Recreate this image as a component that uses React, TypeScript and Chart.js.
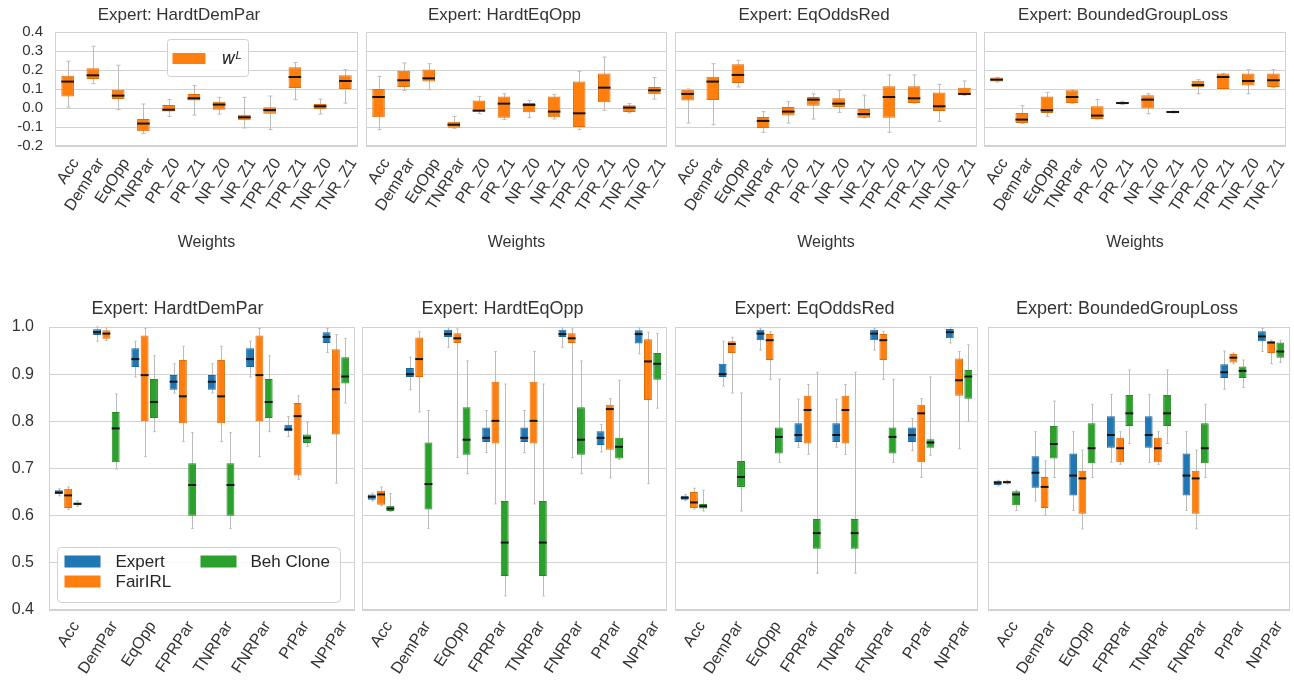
import React, { useEffect, useRef } from 'react';
import { Chart, registerables } from 'chart.js';

Chart.register(...registerables);

const FONT = "'Liberation Sans', Arial, Helvetica, sans-serif";
const TEXT = '#333333';
const GRID = '#d2d2d2';
const WHISKER = '#bcbcbc';
const MEDIAN = '#151515';

// ---------- categories / tick labels ----------
const experts = ['HardtDemPar', 'HardtEqOpp', 'EqOddsRed', 'BoundedGroupLoss'];
const weightLabels = ['Acc', 'DemPar', 'EqOpp', 'TNRPar', 'PR_Z0', 'PR_Z1', 'NR_Z0', 'NR_Z1', 'TPR_Z0', 'TPR_Z1', 'TNR_Z0', 'TNR_Z1'];
const metricLabels = ['Acc', 'DemPar', 'EqOpp', 'FPRPar', 'TNRPar', 'FNRPar', 'PrPar', 'NPrPar'];
const seriesNames = ['Expert', 'FairIRL', 'Beh Clone'];
const seriesFill = ['#1f77b4', '#ff7f0e', '#2ca02c'];
const seriesEdge = ['#1b6599', '#dc6d0b', '#258a25'];
const weightRange = [-0.2, 0.4];
const metricRange = [0.4, 1.0];
const tickStep = 0.1;

// ---------- box stats: [min, q1, median, q3, max] ----------
// top row: learned weights w^L
const wHardtDemPar = [
  [0.005, 0.061, 0.139, 0.170, 0.246],
  [0.128, 0.153, 0.172, 0.209, 0.325],
  [-0.009, 0.047, 0.065, 0.096, 0.225],
  [-0.135, -0.123, -0.082, -0.058, 0.021],
  [-0.044, -0.018, -0.009, 0.016, 0.044],
  [-0.037, 0.040, 0.051, 0.074, 0.118],
  [-0.032, -0.009, 0.018, 0.033, 0.056],
  [-0.105, -0.065, -0.049, -0.035, 0.056],
  [-0.114, -0.030, -0.011, 0.004, 0.063],
  [0.044, 0.105, 0.163, 0.214, 0.240],
  [-0.032, -0.005, 0.009, 0.021, 0.047],
  [0.026, 0.100, 0.142, 0.172, 0.202],
];
const wHardtEqOpp = [
  [-0.114, -0.049, 0.058, 0.100, 0.167],
  [0.093, 0.110, 0.146, 0.196, 0.237],
  [0.096, 0.139, 0.156, 0.202, 0.233],
  [-0.107, -0.104, -0.088, -0.072, -0.044],
  [-0.030, -0.018, -0.014, 0.040, 0.061],
  [-0.061, -0.051, 0.023, 0.060, 0.075],
  [-0.051, -0.023, 0.016, 0.026, 0.040],
  [-0.058, -0.049, -0.019, 0.061, 0.072],
  [-0.114, -0.100, -0.028, 0.140, 0.193],
  [-0.012, 0.030, 0.107, 0.181, 0.268],
  [-0.026, -0.021, 0.002, 0.014, 0.023],
  [0.047, 0.072, 0.093, 0.110, 0.160],
];
const wEqOddsRed = [
  [-0.079, 0.040, 0.074, 0.096, 0.100],
  [-0.088, 0.042, 0.139, 0.165, 0.233],
  [0.111, 0.132, 0.174, 0.230, 0.251],
  [-0.128, -0.105, -0.068, -0.047, -0.019],
  [-0.079, -0.040, -0.019, 0.005, 0.033],
  [-0.058, 0.012, 0.044, 0.058, 0.074],
  [-0.023, 0.005, 0.023, 0.051, 0.093],
  [-0.051, -0.051, -0.032, -0.005, 0.068],
  [-0.128, -0.051, 0.058, 0.114, 0.174],
  [0.026, 0.026, 0.051, 0.114, 0.174],
  [-0.070, -0.016, 0.009, 0.082, 0.125],
  [0.067, 0.067, 0.074, 0.107, 0.142],
];
const wBoundedGroupLoss = [
  [0.137, 0.140, 0.149, 0.160, 0.161],
  [-0.082, -0.079, -0.061, -0.026, 0.012],
  [-0.044, -0.026, -0.012, 0.061, 0.082],
  [0.023, 0.026, 0.058, 0.093, 0.096],
  [-0.058, -0.058, -0.040, 0.009, 0.044],
  [0.019, 0.021, 0.026, 0.032, 0.035],
  [-0.030, -0.002, 0.044, 0.067, 0.075],
  [-0.026, -0.025, -0.021, -0.018, -0.016],
  [0.075, 0.111, 0.121, 0.144, 0.149],
  [0.100, 0.100, 0.163, 0.181, 0.181],
  [0.075, 0.118, 0.142, 0.181, 0.202],
  [0.107, 0.111, 0.146, 0.181, 0.202],
];

// bottom row: metrics
const hdpExpert = [
  [0.642, 0.646, 0.649, 0.654, 0.657],
  [0.970, 0.983, 0.989, 0.995, 1.000],
  [0.894, 0.915, 0.932, 0.955, 0.970],
  [0.860, 0.867, 0.884, 0.898, 0.922],
  [0.860, 0.867, 0.884, 0.898, 0.922],
  [0.894, 0.915, 0.932, 0.955, 0.970],
  [0.768, 0.779, 0.783, 0.793, 0.810],
  [0.946, 0.966, 0.979, 0.989, 0.997],
];
const hdpFairIRL = [
  [0.613, 0.616, 0.643, 0.657, 0.661],
  [0.971, 0.975, 0.986, 0.993, 0.998],
  [0.725, 0.800, 0.898, 0.982, 0.997],
  [0.757, 0.796, 0.853, 0.930, 0.959],
  [0.757, 0.796, 0.853, 0.930, 0.959],
  [0.725, 0.800, 0.898, 0.982, 0.997],
  [0.677, 0.685, 0.811, 0.839, 0.854],
  [0.669, 0.772, 0.868, 0.953, 0.984],
];
const hdpBehClone = [
  [0.620, 0.622, 0.625, 0.628, 0.631],
  [0.699, 0.713, 0.785, 0.820, 0.858],
  [0.778, 0.807, 0.841, 0.890, 0.939],
  [0.573, 0.600, 0.665, 0.711, 0.776],
  [0.573, 0.600, 0.665, 0.711, 0.776],
  [0.778, 0.807, 0.841, 0.890, 0.939],
  [0.747, 0.754, 0.765, 0.772, 0.798],
  [0.839, 0.880, 0.895, 0.936, 0.976],
];
const heoExpert = [
  [0.631, 0.634, 0.640, 0.645, 0.648],
  [0.867, 0.894, 0.900, 0.913, 0.936],
  [0.957, 0.979, 0.985, 0.994, 0.998],
  [0.734, 0.756, 0.765, 0.787, 0.823],
  [0.734, 0.756, 0.765, 0.787, 0.823],
  [0.957, 0.979, 0.985, 0.994, 0.998],
  [0.735, 0.750, 0.765, 0.779, 0.793],
  [0.943, 0.965, 0.985, 0.993, 0.998],
];
const heoFairIRL = [
  [0.621, 0.623, 0.645, 0.653, 0.661],
  [0.820, 0.894, 0.932, 0.978, 0.990],
  [0.723, 0.966, 0.976, 0.987, 0.996],
  [0.625, 0.753, 0.801, 0.884, 0.948],
  [0.625, 0.753, 0.801, 0.884, 0.948],
  [0.723, 0.966, 0.976, 0.987, 0.996],
  [0.680, 0.740, 0.826, 0.835, 0.848],
  [0.668, 0.845, 0.927, 0.974, 0.989],
];
const heoBehClone = [
  [0.609, 0.610, 0.615, 0.621, 0.647],
  [0.573, 0.613, 0.667, 0.755, 0.823],
  [0.689, 0.729, 0.761, 0.830, 0.928],
  [0.430, 0.472, 0.543, 0.631, 0.879],
  [0.430, 0.472, 0.543, 0.631, 0.879],
  [0.689, 0.729, 0.761, 0.830, 0.928],
  [0.719, 0.721, 0.746, 0.765, 0.887],
  [0.828, 0.888, 0.922, 0.945, 0.986],
];
const eorExpert = [
  [0.632, 0.634, 0.638, 0.642, 0.645],
  [0.875, 0.894, 0.900, 0.922, 0.970],
  [0.951, 0.972, 0.986, 0.994, 0.997],
  [0.745, 0.756, 0.771, 0.796, 0.847],
  [0.745, 0.756, 0.771, 0.796, 0.847],
  [0.951, 0.972, 0.986, 0.994, 0.997],
  [0.738, 0.756, 0.771, 0.787, 0.806],
  [0.966, 0.976, 0.989, 0.996, 0.999],
];
const eorFairIRL = [
  [0.614, 0.616, 0.628, 0.650, 0.658],
  [0.860, 0.945, 0.964, 0.970, 0.978],
  [0.889, 0.930, 0.972, 0.985, 0.990],
  [0.730, 0.753, 0.824, 0.854, 0.878],
  [0.730, 0.753, 0.824, 0.854, 0.878],
  [0.889, 0.930, 0.972, 0.985, 0.990],
  [0.681, 0.713, 0.817, 0.835, 0.848],
  [0.742, 0.854, 0.887, 0.933, 0.948],
];
const eorBehClone = [
  [0.610, 0.615, 0.620, 0.625, 0.654],
  [0.610, 0.661, 0.682, 0.716, 0.860],
  [0.713, 0.732, 0.767, 0.787, 0.889],
  [0.478, 0.530, 0.563, 0.593, 0.904],
  [0.478, 0.530, 0.563, 0.593, 0.904],
  [0.713, 0.732, 0.767, 0.787, 0.889],
  [0.728, 0.744, 0.755, 0.762, 0.894],
  [0.800, 0.848, 0.895, 0.909, 0.962],
];
const bglExpert = [
  [0.663, 0.665, 0.670, 0.674, 0.675],
  [0.631, 0.659, 0.691, 0.726, 0.778],
  [0.611, 0.643, 0.685, 0.732, 0.778],
  [0.713, 0.744, 0.771, 0.811, 0.857],
  [0.713, 0.744, 0.771, 0.811, 0.857],
  [0.611, 0.643, 0.685, 0.732, 0.778],
  [0.868, 0.892, 0.904, 0.921, 0.949],
  [0.948, 0.970, 0.980, 0.991, 0.997],
];
const bglFairIRL = [
  [0.667, 0.668, 0.671, 0.674, 0.675],
  [0.601, 0.616, 0.661, 0.682, 0.716],
  [0.572, 0.604, 0.679, 0.695, 0.739],
  [0.709, 0.713, 0.743, 0.765, 0.778],
  [0.709, 0.713, 0.743, 0.765, 0.778],
  [0.572, 0.604, 0.679, 0.695, 0.739],
  [0.922, 0.925, 0.935, 0.943, 0.945],
  [0.922, 0.945, 0.967, 0.970, 0.972],
];
const bglBehClone = [
  [0.611, 0.622, 0.645, 0.652, 0.654],
  [0.681, 0.721, 0.752, 0.790, 0.843],
  [0.681, 0.711, 0.743, 0.796, 0.836],
  [0.753, 0.790, 0.817, 0.856, 0.909],
  [0.753, 0.790, 0.817, 0.856, 0.909],
  [0.681, 0.711, 0.743, 0.796, 0.836],
  [0.872, 0.892, 0.907, 0.916, 0.930],
  [0.925, 0.935, 0.948, 0.967, 0.972],
];

const weightStats = [wHardtDemPar, wHardtEqOpp, wEqOddsRed, wBoundedGroupLoss];
const metricStats = [
  [hdpExpert, hdpFairIRL, hdpBehClone],
  [heoExpert, heoFairIRL, heoBehClone],
  [eorExpert, eorFairIRL, eorBehClone],
  [bglExpert, bglFairIRL, bglBehClone],
];

// ---------- layout ----------
const topRow = { top: 0, height: 256, plotTop: 32, plotBottom: 146 };
const bottomRow = { top: 290, height: 406, plotTop: 327, plotBottom: 610 };
const topPlotX = [[55, 358], [366, 667], [675, 977], [984, 1286]];
const bottomPlotX = [[49, 355], [362, 667], [675, 978], [988, 1290]];

// ---------- plugins ----------
const boxPlugin = {
  id: 'boxWhisker',
  beforeDatasetsDraw(chart: any) {
    const { ctx, chartArea: a } = chart;
    ctx.save();
    ctx.strokeStyle = GRID;
    ctx.lineWidth = 1;
    ctx.strokeRect(Math.round(a.left) + 0.5, Math.round(a.top) + 0.5, Math.round(a.right - a.left) - 1, Math.round(a.bottom - a.top) - 1);
    const ys = chart.scales.y;
    chart.data.datasets.forEach((ds: any, di: number) => {
      const meta = chart.getDatasetMeta(di);
      meta.data.forEach((el: any, i: number) => {
        const s = ds.stats[i];
        const x = Math.round(el.x) + 0.5;
        const cw = Math.max(2, el.width * 0.32) / 2;
        const y0 = ys.getPixelForValue(s[0]);
        const y4 = ys.getPixelForValue(s[4]);
        ctx.strokeStyle = WHISKER;
        ctx.lineWidth = 1;
        ctx.beginPath();
        ctx.moveTo(x, y0);
        ctx.lineTo(x, y4);
        ctx.moveTo(x - cw, y0);
        ctx.lineTo(x + cw, y0);
        ctx.moveTo(x - cw, y4);
        ctx.lineTo(x + cw, y4);
        ctx.stroke();
      });
    });
    ctx.restore();
  },
  afterDatasetsDraw(chart: any) {
    const { ctx } = chart;
    const ys = chart.scales.y;
    ctx.save();
    ctx.strokeStyle = MEDIAN;
    ctx.lineWidth = 2;
    chart.data.datasets.forEach((ds: any, di: number) => {
      const meta = chart.getDatasetMeta(di);
      meta.data.forEach((el: any, i: number) => {
        const s = ds.stats[i];
        const y = ys.getPixelForValue(s[2]);
        ctx.beginPath();
        ctx.moveTo(el.x - el.width / 2, y);
        ctx.lineTo(el.x + el.width / 2, y);
        ctx.stroke();
      });
    });
    ctx.restore();
  },
};

function roundRect(ctx: any, x: number, y: number, w: number, h: number, r: number) {
  ctx.beginPath();
  ctx.moveTo(x + r, y);
  ctx.lineTo(x + w - r, y);
  ctx.arcTo(x + w, y, x + w, y + r, r);
  ctx.lineTo(x + w, y + h - r);
  ctx.arcTo(x + w, y + h, x + w - r, y + h, r);
  ctx.lineTo(x + r, y + h);
  ctx.arcTo(x, y + h, x, y + h - r, r);
  ctx.lineTo(x, y + r);
  ctx.arcTo(x, y, x + r, y, r);
  ctx.closePath();
}

const weightLegend = {
  id: 'weightLegend',
  afterDraw(chart: any) {
    const { ctx, chartArea: a } = chart;
    const x0 = Math.round(a.left) + 112.5;
    const y0 = Math.round(a.top) + 7.5;
    ctx.save();
    roundRect(ctx, x0, y0, 81, 37, 3);
    ctx.fillStyle = 'rgba(255,255,255,0.85)';
    ctx.fill();
    ctx.strokeStyle = '#d0d0d0';
    ctx.lineWidth = 1;
    ctx.stroke();
    ctx.fillStyle = seriesFill[1];
    ctx.fillRect(x0 + 5, y0 + 13.5, 33, 11);
    ctx.fillStyle = '#262626';
    ctx.textBaseline = 'alphabetic';
    ctx.textAlign = 'left';
    ctx.font = "italic 17px 'DejaVu Sans', sans-serif";
    ctx.fillText('w', x0 + 54, y0 + 24.5);
    ctx.font = "italic 11px 'DejaVu Sans', sans-serif";
    ctx.fillText('L', x0 + 68, y0 + 19.5);
    ctx.restore();
  },
};

const metricLegend = {
  id: 'metricLegend',
  afterDraw(chart: any) {
    const { ctx, chartArea: a } = chart;
    const x0 = Math.round(a.left) + 8.5;
    const y0 = Math.round(a.top) + 220.5;
    ctx.save();
    roundRect(ctx, x0, y0, 283, 55, 4);
    ctx.fillStyle = 'rgba(255,255,255,0.85)';
    ctx.fill();
    ctx.strokeStyle = '#d0d0d0';
    ctx.lineWidth = 1;
    ctx.stroke();
    const items = [
      { k: 0, rx: 7, ry: 8, tx: 58 },
      { k: 1, rx: 7, ry: 28, tx: 58 },
      { k: 2, rx: 143, ry: 8, tx: 193 },
    ];
    ctx.font = `17px ${FONT}`;
    ctx.textBaseline = 'middle';
    ctx.textAlign = 'left';
    items.forEach((it) => {
      ctx.fillStyle = seriesFill[it.k];
      ctx.fillRect(x0 + it.rx, y0 + it.ry, 36, 12);
      ctx.fillStyle = '#262626';
      ctx.fillText(seriesNames[it.k], x0 + it.tx, y0 + it.ry + 7);
    });
    ctx.restore();
  },
};

// ---------- config ----------
function boxDataset(label: string, stats: number[][], fill: string, edge: string, barPct: number, catPct: number) {
  return {
    label,
    stats,
    data: stats.map((s) => [s[1], s[3]]),
    backgroundColor: fill,
    borderColor: edge,
    borderWidth: 1,
    borderSkipped: false,
    barPercentage: barPct,
    categoryPercentage: catPct,
  };
}

type Spec = {
  key: string;
  row: 'top' | 'bottom';
  idx: number;
  left: number;
  top: number;
  width: number;
  height: number;
  yW: number;
  xH: number;
};

function buildConfig(spec: Spec): any {
  const isTop = spec.row === 'top';
  const first = spec.idx === 0;
  const range = isTop ? weightRange : metricRange;
  const titleSize = isTop ? 17 : 18;
  const titlePad = isTop ? { top: 4.8, bottom: 6.8 } : { top: 8.2, bottom: 7.2 };
  const datasets = isTop
    ? [boxDataset('w^L', weightStats[spec.idx], seriesFill[1], seriesEdge[1], 0.5, 1.0)]
    : seriesNames.map((n, k) => boxDataset(n, metricStats[spec.idx][k], seriesFill[k], seriesEdge[k], 0.85, 0.73));
  const plugins: any[] = [boxPlugin];
  if (first) plugins.push(isTop ? weightLegend : metricLegend);
  return {
    type: 'bar',
    data: { labels: isTop ? weightLabels : metricLabels, datasets },
    plugins,
    options: {
      responsive: false,
      animation: false,
      events: [],
      layout: { padding: { left: 0, right: 3, top: 0, bottom: 0 } },
      plugins: {
        legend: { display: false },
        tooltip: { enabled: false },
        title: {
          display: true,
          text: `Expert: ${experts[spec.idx]}`,
          color: TEXT,
          font: { family: FONT, size: titleSize, weight: 'normal', lineHeight: 1.2 },
          padding: titlePad,
        },
      },
      scales: {
        x: {
          type: 'category',
          grid: { display: false, drawTicks: false },
          border: { display: false },
          ticks: {
            autoSkip: false,
            minRotation: 57,
            maxRotation: 57,
            padding: isTop ? 9 : 8,
            labelOffset: isTop ? 8 : 8,
            color: TEXT,
            font: { family: FONT, size: 16 },
          },
          title: isTop
            ? { display: true, text: 'Weights', color: TEXT, font: { family: FONT, size: 16 }, padding: { top: 0, bottom: 4 } }
            : { display: false },
          afterFit: (s: any) => {
            s.height = spec.xH;
            s.paddingLeft = 0;
            s.paddingRight = 0;
          },
        },
        y: {
          min: range[0],
          max: range[1],
          stacked: false,
          grid: { color: GRID, drawTicks: false, lineWidth: 1 },
          border: { display: false },
          ticks: {
            display: first,
            autoSkip: false,
            stepSize: tickStep,
            padding: isTop ? 12 : 15,
            color: TEXT,
            font: { family: FONT, size: isTop ? 15 : 16 },
            callback: (v: any) => Number(v).toFixed(1),
          },
          afterFit: (s: any) => {
            s.width = spec.yW;
            s.paddingTop = 0;
            s.paddingBottom = 0;
          },
        },
      },
    },
  };
}

function makeSpecs(): Spec[] {
  const specs: Spec[] = [];
  [0, 1, 2, 3].forEach((i) => {
    const [l, r] = topPlotX[i];
    const yW = i === 0 ? l : 24;
    specs.push({
      key: `top${i}`,
      row: 'top',
      idx: i,
      left: l - yW,
      top: topRow.top,
      width: yW + (r - l) + 3,
      height: topRow.height,
      yW,
      xH: topRow.height - topRow.plotBottom,
    });
  });
  [0, 1, 2, 3].forEach((i) => {
    const [l, r] = bottomPlotX[i];
    const yW = i === 0 ? l : 24;
    specs.push({
      key: `bottom${i}`,
      row: 'bottom',
      idx: i,
      left: l - yW,
      top: bottomRow.top,
      width: yW + (r - l) + 3,
      height: bottomRow.height,
      yW,
      xH: bottomRow.top + bottomRow.height - bottomRow.plotBottom,
    });
  });
  return specs;
}

function PanelCanvas({ spec }: { spec: Spec }) {
  const ref = useRef<HTMLCanvasElement | null>(null);
  useEffect(() => {
    const chart = new Chart(ref.current as HTMLCanvasElement, buildConfig(spec));
    return () => chart.destroy();
  }, []);
  return (
    <canvas
      ref={ref}
      width={spec.width}
      height={spec.height}
      style={{ position: 'absolute', left: spec.left, top: spec.top, width: spec.width, height: spec.height, display: 'block' }}
    />
  );
}

export default function App() {
  const specs = makeSpecs();
  return (
    <div style={{ position: 'absolute', left: 0, top: 0, width: 1294, height: 696, background: '#ffffff', overflow: 'hidden' }}>
      {specs.map((s) => (
        <PanelCanvas key={s.key} spec={s} />
      ))}
    </div>
  );
}
